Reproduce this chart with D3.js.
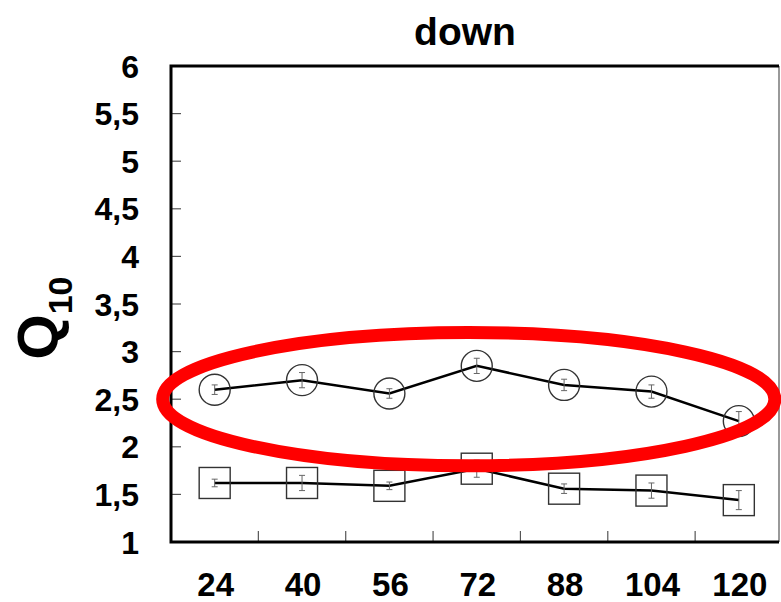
<!DOCTYPE html>
<html>
<head>
<meta charset="utf-8">
<script src="https://cdn.jsdelivr.net/npm/d3@7"></script>
<style>
  body { margin: 0; background: #fff; }
  text { font-family: "Liberation Sans", Arial, sans-serif; font-weight: bold; fill: #000; }
</style>
</head>
<body>
<div id="graph"></div>
<script>
var hours = ["24", "40", "56", "72", "88", "104", "120"];
var circleVals = [2.60, 2.70, 2.56, 2.85, 2.65, 2.58, 2.27];
var circleErr = [0.05, 0.08, 0.05, 0.08, 0.06, 0.07, 0.10];
var squareVals = [1.62, 1.62, 1.59, 1.77, 1.56, 1.54, 1.44];
var squareErr = [0.04, 0.08, 0.04, 0.09, 0.05, 0.08, 0.10];
var yTicks = [1, 1.5, 2, 2.5, 3, 3.5, 4, 4.5, 5, 5.5, 6];

var w = 781, h = 602;
var fL = 171, fR = 779, fT = 66, fB = 542; // frame edges

var svg = d3.select("#graph").append("svg")
  .attr("width", w)
  .attr("height", h);

var x = d3.scaleBand().domain(hours).range([fL, 782.5]);
var y = d3.scaleLinear().domain([1, 6]).range([fB, fT]);
var cx = function(d) { return x(d) + x.bandwidth() / 2; };

// title
svg.append("text")
  .attr("x", 465).attr("y", 45)
  .attr("text-anchor", "middle")
  .style("font-size", "39px")
  .text("down");

// y label Q10
var ql = svg.append("text")
  .attr("transform", "translate(58,318) rotate(-90)")
  .attr("text-anchor", "middle")
  .style("font-size", "58px");
ql.append("tspan").text("Q");
ql.append("tspan").attr("dy", 14).style("font-size", "34px").text("10");

// y ticks + labels
svg.append("g").selectAll("line").data(yTicks.filter(function(t) { return t > 1 && t < 6; }))
  .enter().append("line")
  .attr("x1", fL).attr("x2", fL + 10)
  .attr("y1", function(d) { return y(d); }).attr("y2", function(d) { return y(d); })
  .attr("stroke", "#555").attr("stroke-width", 1.2);

svg.append("g").selectAll("text").data(yTicks)
  .enter().append("text")
  .attr("x", 139)
  .attr("y", function(d) { return y(d); })
  .attr("dy", "0.36em")
  .attr("text-anchor", "end")
  .style("font-size", "32px")
  .text(function(d) { return String(d).replace(".", ","); });

// x ticks between categories + labels
svg.append("g").selectAll("line").data(hours.slice(1))
  .enter().append("line")
  .attr("x1", function(d) { return x(d); }).attr("x2", function(d) { return x(d); })
  .attr("y1", fB).attr("y2", fB - 11)
  .attr("stroke", "#555").attr("stroke-width", 1.2);

svg.append("g").selectAll("text").data(hours)
  .enter().append("text")
  .attr("x", function(d) { return cx(d) + 1; })
  .attr("y", 596)
  .attr("text-anchor", "middle")
  .style("font-size", "33px")
  .text(function(d) { return d; });

// frame
svg.append("line").attr("x1", fR).attr("x2", fR).attr("y1", fT).attr("y2", fB)
  .attr("stroke", "#777").attr("stroke-width", 1.5);
svg.append("path")
  .attr("d", "M" + fR + "," + fT + "H" + fL + "V" + fB + "H" + fR)
  .attr("fill", "none").attr("stroke", "#000").attr("stroke-width", 3);

function series(vals, errs, shape) {
  var pts = hours.map(function(d, i) { return { h: d, v: vals[i], e: errs[i] }; });
  var g = svg.append("g");

  g.append("path")
    .attr("d", d3.line().x(function(d) { return cx(d.h); }).y(function(d) { return y(d.v); })(pts))
    .attr("fill", "none").attr("stroke", "#000").attr("stroke-width", 2.5);

  // error bars
  var eb = g.selectAll(".eb").data(pts).enter().append("g").attr("stroke", "#666").attr("stroke-width", 1);
  eb.append("line")
    .attr("x1", function(d) { return cx(d.h); }).attr("x2", function(d) { return cx(d.h); })
    .attr("y1", function(d) { return y(d.v + d.e); }).attr("y2", function(d) { return y(d.v - d.e); });
  eb.append("line")
    .attr("x1", function(d) { return cx(d.h) - 3; }).attr("x2", function(d) { return cx(d.h) + 3; })
    .attr("y1", function(d) { return y(d.v + d.e); }).attr("y2", function(d) { return y(d.v + d.e); });
  eb.append("line")
    .attr("x1", function(d) { return cx(d.h) - 3; }).attr("x2", function(d) { return cx(d.h) + 3; })
    .attr("y1", function(d) { return y(d.v - d.e); }).attr("y2", function(d) { return y(d.v - d.e); });

  if (shape === "circle") {
    g.selectAll("circle").data(pts).enter().append("circle")
      .attr("cx", function(d) { return cx(d.h); })
      .attr("cy", function(d) { return y(d.v); })
      .attr("r", 15.5)
      .attr("fill", "none").attr("stroke", "#333").attr("stroke-width", 1.4);
  } else {
    g.selectAll("rect").data(pts).enter().append("rect")
      .attr("x", function(d) { return cx(d.h) - 15.5; })
      .attr("y", function(d) { return y(d.v) - 15.5; })
      .attr("width", 31).attr("height", 31)
      .attr("fill", "none").attr("stroke", "#333").attr("stroke-width", 1.4);
  }
}

series(circleVals, circleErr, "circle");
series(squareVals, squareErr, "square");

// red highlight ring around the circle series
var ringFrom = cx(hours[0]) - 52, ringTo = cx(hours[hours.length - 1]) + 36;
svg.append("ellipse")
  .attr("cx", (ringFrom + ringTo) / 2)
  .attr("cy", y(2.5))
  .attr("rx", (ringTo - ringFrom) / 2)
  .attr("ry", y(1.8) - y(2.5))
  .attr("fill", "none")
  .attr("stroke", "#ff0000")
  .attr("stroke-width", 13);
</script>
</body>
</html>
